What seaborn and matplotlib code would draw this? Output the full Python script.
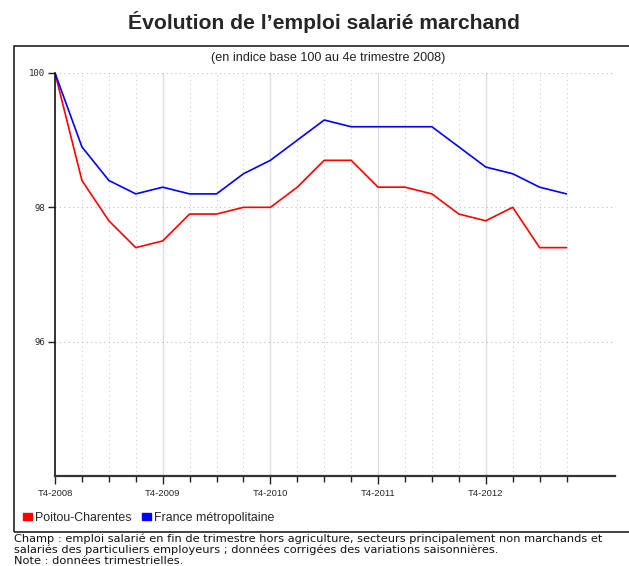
"""
Evolution de l'emploi salarie marchand, Poitou-Charentes vs France metropolitaine
(indice base 100 au T4-2008), redessine avec seaborn.
"""

import matplotlib.pyplot as plt
import matplotlib.patches as mpatches
import numpy as np
import pandas as pd
import seaborn as sns

sns.set_style("white")
plt.rcParams["font.family"] = ["Liberation Sans", "DejaVu Sans"]

# trimestres depuis T4-2008 (0 = T4-2008, 19 = T3-2013)
quarters = list(range(20))
year_labels = ["T4-2008", "T4-2009", "T4-2010", "T4-2011", "T4-2012"]
poitou = [100.0, 98.4, 97.8, 97.4, 97.5, 97.9, 97.9, 98.0, 98.0, 98.3,
          98.7, 98.7, 98.3, 98.3, 98.2, 97.9, 97.8, 98.0, 97.4, 97.4]
france = [100.0, 98.9, 98.4, 98.2, 98.3, 98.2, 98.2, 98.5, 98.7, 99.0,
          99.3, 99.2, 99.2, 99.2, 99.2, 98.9, 98.6, 98.5, 98.3, 98.2]
series_names = ["Poitou-Charentes", "France métropolitaine"]
colors = ["#ff0000", "#0000ff"]
notes = [
    "Champ : emploi salarié en fin de trimestre hors agriculture, secteurs "
    "principalement non marchands et",
    "salariés des particuliers employeurs ; données corrigées des variations "
    "saisonnières.",
    "Note : données trimestrielles.",
]

df = pd.DataFrame({
    "trimestre": quarters * 2,
    "indice": poitou + france,
    "zone": [series_names[0]] * len(quarters) + [series_names[1]] * len(quarters),
})

fig = plt.figure(figsize=(6.29, 5.66), dpi=100)
ax = fig.add_axes([55 / 629, 1 - 476 / 566, 560 / 629, 403 / 566])

# grille : pointilles a chaque trimestre, trait plein aux T4
for q in quarters[1:]:
    if q % 4 == 0:
        ax.axvline(q, color="#dddddd", lw=1.0, zorder=0)
    else:
        ax.axvline(q, color="#cccccc", lw=0.8, ls=(0, (1, 3)), zorder=0)
for v in [100, 98, 96]:
    ax.axhline(v, color="#bbbbbb", lw=0.8, ls=(0, (1, 3)), zorder=0)

sns.lineplot(data=df, x="trimestre", y="indice", hue="zone",
             palette=dict(zip(series_names, colors)), lw=1.2,
             legend=False, ax=ax)

ax.set_xlim(0, 20.8)
ax.set_ylim(94, 100)
ax.set_xticks(quarters[::4])
ax.set_xticklabels(year_labels, fontsize=6.8)
ax.set_xticks(quarters, minor=True)
ax.set_yticks([96, 98, 100])
ax.set_yticklabels(["96", "98", "100"], fontsize=6.5, family="DejaVu Sans Mono")
ax.tick_params(axis="x", which="major", length=6, width=1, color="#222222",
               direction="out", bottom=True, pad=3)
ax.tick_params(axis="x", which="minor", length=4, width=1, color="#222222",
               direction="out", bottom=True)
ax.tick_params(axis="y", length=5, width=1, color="#222222", direction="out",
               left=True, pad=2)
ax.set_xlabel("")
ax.set_ylabel("")
for side in ["top", "right"]:
    ax.spines[side].set_visible(False)
ax.spines["left"].set_color("#111111")
ax.spines["left"].set_linewidth(1.2)
ax.spines["bottom"].set_color("#333333")
ax.spines["bottom"].set_linewidth(1.6)
ax.set_facecolor("none")

# cadre autour du graphique
frame = mpatches.Rectangle((14 / 629, 1 - 532 / 566), 620 / 629, 486 / 566,
                           transform=fig.transFigure, fill=False,
                           edgecolor="#222222", lw=1.2)
fig.patches.append(frame)

fig.text(0.515, 1 - 22 / 566, "Évolution de l’emploi salarié marchand",
         ha="center", va="center", fontsize=15.2, fontweight="bold")
fig.text(0.522, 1 - 58 / 566, "(en indice base 100 au 4e trimestre 2008)",
         ha="center", va="center", fontsize=9.1, color="#222222")

handles = [mpatches.Patch(color=c, label=n) for c, n in zip(colors, series_names)]
fig.legend(handles=handles, loc="center left",
           bbox_to_anchor=(23 / 629, 1 - 518 / 566), ncol=2, frameon=False,
           fontsize=8.9, handlelength=0.75, handleheight=0.5, handletextpad=0.25,
           columnspacing=0.8, borderaxespad=0, borderpad=0)

# notes sous le cadre, une ligne a la fois
for i, line in enumerate(notes):
    fig.text(14 / 629, 1 - (542.5 + 10.5 * i) / 566, line,
             ha="left", va="baseline", fontsize=8.2, family="DejaVu Sans",
             color="#111111")

fig.savefig("out.png", dpi=100)
